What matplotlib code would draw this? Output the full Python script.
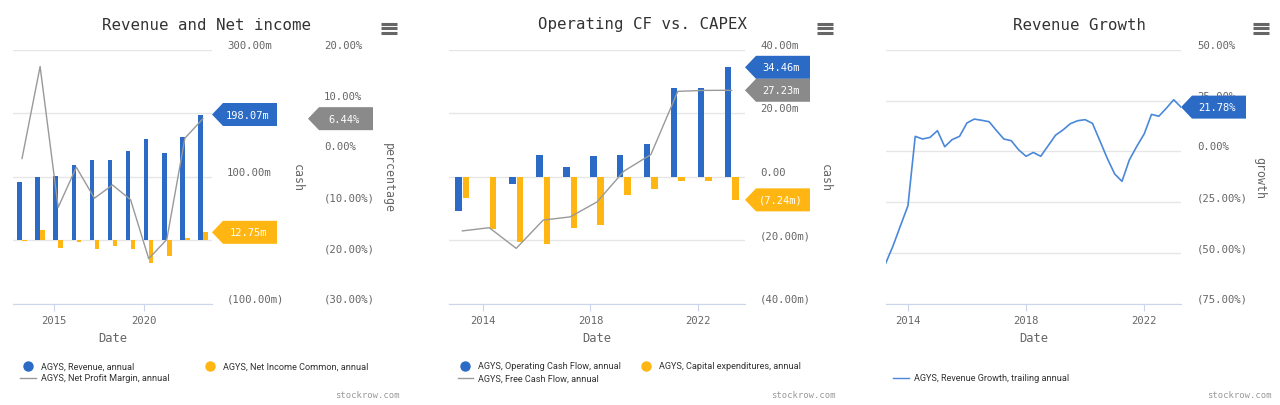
import matplotlib
matplotlib.use("Agg")
import matplotlib.pyplot as plt
import matplotlib.transforms as mtransforms
import matplotlib.dates as mdates
from matplotlib.patches import Polygon
from matplotlib.lines import Line2D
from datetime import datetime
import pandas as pd

# ---- data (millions / percent) ----
fiscal_years = list(range(2013, 2024))
revenue = [92, 100, 102, 119, 127, 127, 140, 160, 137, 162, 198.07]
net_income = [-1, 16, -11.5, -3, -13, -8.5, -13, -35, -24, 4, 12.75]
net_margin = [-1.4, 16.7, -11.0, -3.1, -9.2, -6.6, -9.5, -21.1, -17.3, 2.6, 6.44]

op_cash_flow = [-10.7, 0, -2.3, 6.8, 3.1, 6.6, 6.8, 10.3, 28.0, 28.0, 34.46]
capex = [-6.8, -16.5, -20.4, -21.2, -16.0, -15.2, -5.8, -3.7, -1.3, -1.3, -7.24]
free_cash_flow = [-17.0, -16.0, -22.5, -13.6, -12.6, -7.9, 1.8, 7.0, 26.9, 27.2, 27.23]

growth_start = "2013-03-31"
revenue_growth = [-55.0, -46.4, -36.5, -26.7, 7.4, 6.1, 6.9, 10.2, 2.3, 5.8,
                  7.4, 14.0, 15.9, 15.3, 14.6, 10.2, 6.1, 5.3, 0.8, -2.4,
                  -0.5, -2.4, 2.8, 8.0, 10.5, 13.6, 15.1, 15.6, 13.8, 5.3,
                  -3.4, -11.1, -14.7, -4.2, 2.5, 8.6, 18.2, 17.3, 21.2, 25.4,
                  21.78]

cash1_ticks = [-100, 0, 100, 200, 300]
cash1_labels = ["(100.00m)", "", "100.00m", "", "300.00m"]
pct1_ticks = [-30, -20, -10, 0, 10, 20]
pct1_labels = ["(30.00%)", "(20.00%)", "(10.00%)", "0.00%", "10.00%", "20.00%"]
cash2_ticks = [-40, -20, 0, 20, 40]
cash2_labels = ["(40.00m)", "(20.00m)", "0.00", "20.00m", "40.00m"]
growth_ticks = [-75, -50, -25, 0, 25, 50]
growth_labels = ["(75.00%)", "(50.00%)", "(25.00%)", "0.00%", "25.00%", "50.00%"]

BLUE = "#2b6bc5"
YELLOW = "#ffb612"
GREY = "#8a8a8a"
LGREY = "#999999"
GLINE = "#4a88da"
TXT = "#666666"
LEG_FONT = ["Liberation Sans Narrow", "Roboto", "DejaVu Sans"]

plt.rcParams["font.family"] = "DejaVu Sans Mono"

W, H = 1280, 406
fig = plt.figure(figsize=(W / 100, H / 100), dpi=100)

fy_dates = mdates.date2num([datetime(y, 3, 31) for y in fiscal_years])
q_dates = mdates.date2num(pd.date_range(growth_start, periods=len(revenue_growth), freq="QE").to_pydatetime())


def make_ax(left, right):
    ax = fig.add_axes([left / W, 1 - 305 / H, (right - left) / W, (305 - 50.7) / H])
    for s in ["left", "right", "top"]:
        ax.spines[s].set_visible(False)
    ax.spines["bottom"].set_color("#ccd6eb")
    ax.yaxis.grid(True, color="#e6e6e6", lw=1)
    ax.set_axisbelow(True)
    ax.set_yticklabels([])
    ax.tick_params(axis="y", length=0)
    ax.tick_params(axis="x", length=5, color="#ccd6eb", pad=3, labelsize=7.6, labelcolor=TXT)
    ax.set_xlabel("Date", fontsize=8.7, color=TXT, labelpad=4)
    return ax


def ylabels(ax, ticks, labels, pad_px):
    tr = mtransforms.blended_transform_factory(ax.transAxes, ax.transData) + \
        mtransforms.ScaledTranslation(pad_px / 100, 5 / 100, fig.dpi_scale_trans)
    for t, s in zip(ticks, labels):
        if s:
            ax.text(1, t, s, transform=tr, ha="left", va="center", fontsize=7.7, color=TXT)


def axis_title(ax, text, dx_px):
    tr = ax.transAxes + mtransforms.ScaledTranslation(dx_px / 100, 0, fig.dpi_scale_trans)
    ax.text(1, 0.5, text, transform=tr, rotation=270, ha="center", va="center", fontsize=8.4, color=TXT)


def tag(ax, yval, text, color, dx_px=0):
    base = mtransforms.blended_transform_factory(ax.transAxes, ax.transData)
    tr = fig.dpi_scale_trans + mtransforms.ScaledTranslation(1, yval, base)
    d, a, w, h = dx_px / 100, 0.11, 0.65, 0.115
    poly = Polygon([(d, 0), (d + a, h), (d + w, h), (d + w, -h), (d + a, -h)], closed=True,
                   transform=tr, facecolor=color, edgecolor="none", clip_on=False, zorder=5)
    fig.add_artist(poly)
    fig.text(d + 0.36, 0, text, transform=tr, ha="center", va="center", fontsize=7.5, color="white", zorder=6)


def title(x, text):
    fig.text(x / W, 1 - 25 / H, text, ha="center", va="center", fontsize=11.3, color="#333333")


def burger(x):
    for y in [24.5, 29, 33.5]:
        fig.add_artist(Line2D([(x - 8) / W, (x + 8) / W], [1 - y / H, 1 - y / H], color=TXT, lw=2.2,
                              solid_capstyle="butt", transform=fig.transFigure))


def legend_dot(x, y, color, text):
    fig.add_artist(Line2D([x / W], [1 - y / H], marker="o", ms=6.5, color=color, ls="none",
                          transform=fig.transFigure))
    fig.text((x + 13) / W, 1 - y / H, text, ha="left", va="center", fontsize=6.6, family=LEG_FONT, color="#333333")


def legend_line(x0, x1, y, color, text):
    fig.add_artist(Line2D([x0 / W, x1 / W], [1 - y / H, 1 - y / H], color=color, lw=1, transform=fig.transFigure))
    fig.text((x1 + 5) / W, 1 - y / H, text, ha="left", va="center", fontsize=6.6, family=LEG_FONT, color="#333333")


def stockrow(xr):
    fig.text(xr / W, 1 - 396 / H, "stockrow.com", ha="right", va="center", fontsize=6.4, color="#999999")


half = 182
off, bw = 51, 90

# ---- panel 1: Revenue and Net income ----
ax1 = make_ax(13, 212)
ax1.bar(fy_dates - off, revenue, width=bw, color=BLUE, zorder=2)
ax1.bar(fy_dates + off, net_income, width=bw, color=YELLOW, zorder=2)
ax1.set_ylim(-100, 300)
ax1.set_yticks(cash1_ticks)
ax1.set_xlim(fy_dates[0] - half, fy_dates[-1] + half)
ax1.set_xticks(mdates.date2num([datetime(2015, 1, 1), datetime(2020, 1, 1)]))
ax1.set_xticklabels(["2015", "2020"])
ax1b = ax1.twinx()
ax1b.set_position(ax1.get_position())
ax1b.plot(fy_dates, net_margin, color=LGREY, lw=1, zorder=3)
ax1b.set_ylim(-30, 20)
ax1b.set_yticks([])
for s in ax1b.spines.values():
    s.set_visible(False)
ylabels(ax1, cash1_ticks, cash1_labels, 15)
ylabels(ax1b, pct1_ticks, pct1_labels, 112)
axis_title(ax1, "cash", 85)
axis_title(ax1, "percentage", 176)
tag(ax1, revenue[-1], "198.07m", BLUE)
tag(ax1, net_income[-1], "12.75m", YELLOW)
tag(ax1b, net_margin[-1], "6.44%", GREY, dx_px=96)
title(206.5, "Revenue and Net income")
burger(389)
legend_dot(28, 367, BLUE, "AGYS, Revenue, annual")
legend_dot(210, 367, YELLOW, "AGYS, Net Income Common, annual")
legend_line(20, 36, 379, LGREY, "AGYS, Net Profit Margin, annual")
stockrow(400)

# ---- panel 2: Operating CF vs. CAPEX ----
ax2 = make_ax(449, 745)
ax2.bar(fy_dates - off, op_cash_flow, width=bw, color=BLUE, zorder=2)
ax2.bar(fy_dates + off, capex, width=bw, color=YELLOW, zorder=2)
ax2.plot(fy_dates, free_cash_flow, color=LGREY, lw=1, zorder=3)
ax2.set_ylim(-40, 40)
ax2.set_yticks(cash2_ticks)
ax2.set_xlim(fy_dates[0] - half, fy_dates[-1] + half)
ax2.set_xticks(mdates.date2num([datetime(2014, 1, 1), datetime(2018, 1, 1), datetime(2022, 1, 1)]))
ax2.set_xticklabels(["2014", "2018", "2022"])
ylabels(ax2, cash2_ticks, cash2_labels, 15)
axis_title(ax2, "cash", 80)
tag(ax2, op_cash_flow[-1], "34.46m", BLUE)
tag(ax2, free_cash_flow[-1], "27.23m", GREY)
tag(ax2, capex[-1], "(7.24m)", YELLOW)
title(643, "Operating CF vs. CAPEX")
burger(825)
legend_dot(465, 367, BLUE, "AGYS, Operating Cash Flow, annual")
legend_dot(646, 367, YELLOW, "AGYS, Capital expenditures, annual")
legend_line(458, 473, 379, LGREY, "AGYS, Free Cash Flow, annual")
stockrow(836)

# ---- panel 3: Revenue Growth ----
ax3 = make_ax(885.7, 1181)
ax3.plot(q_dates, revenue_growth, color=GLINE, lw=1.2, zorder=3)
ax3.set_ylim(-75, 50)
ax3.set_yticks(growth_ticks)
ax3.set_xlim(q_dates[0], q_dates[-1])
ax3.set_xticks(mdates.date2num([datetime(2014, 1, 1), datetime(2018, 1, 1), datetime(2022, 1, 1)]))
ax3.set_xticklabels(["2014", "2018", "2022"])
ylabels(ax3, growth_ticks, growth_labels, 16)
axis_title(ax3, "growth", 79)
tag(ax3, revenue_growth[-1], "21.78%", BLUE)
title(1079.5, "Revenue Growth")
burger(1261)
legend_line(893, 909, 379, GLINE, "AGYS, Revenue Growth, trailing annual")
stockrow(1272)

fig.savefig("out.png", dpi=100)
